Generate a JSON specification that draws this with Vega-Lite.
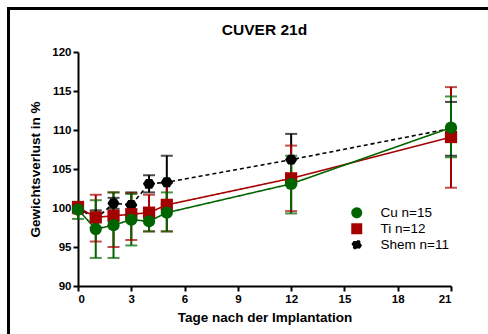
{
  "$schema": "https://vega.github.io/schema/vega-lite/v6.json",
  "width": 373,
  "height": 234,
  "autosize": {"type": "none"},
  "padding": {"left": 78, "top": 52, "right": 37, "bottom": 48},
  "background": "white",
  "title": {"text": "CUVER 21d", "font": "Liberation Sans", "fontSize": 15.5, "fontWeight": "bold", "color": "black", "offset": -31, "anchor": "middle"},
  "config": {
    "view": {"stroke": null},
    "axis": {"domainColor": "black", "domainWidth": 2, "tickColor": "black", "tickWidth": 2, "tickSize": 5, "labelFont": "Liberation Sans", "labelFontWeight": "bold", "labelFontSize": 11.5, "labelColor": "black", "titleFont": "Liberation Sans", "titleFontWeight": "bold", "titleFontSize": 13.5, "titleColor": "black", "grid": false, "labelOverlap": false},
    "axisY": {"values": [90, 95, 100, 105, 110, 115, 120], "title": "Gewichtsverlust in %", "titlePadding": 9},
    "axisX": {"values": [0, 3, 6, 9, 12, 15, 18, 21], "title": "Tage nach der Implantation", "titlePadding": 6},
    "legend": {"labelFont": "Liberation Sans", "labelFontSize": 13.5, "labelColor": "black", "symbolOpacity": 1}
  },
  "data": {"values": [
    {"s": "Shem n=11", "d": 0, "m": 100.0, "lo": 99.5, "hi": 100.5},
    {"s": "Shem n=11", "d": 1, "m": 98.6, "lo": 97.5, "hi": 99.7},
    {"s": "Shem n=11", "d": 2, "m": 100.6, "lo": 99.9, "hi": 101.3},
    {"s": "Shem n=11", "d": 3, "m": 100.4, "lo": 99.0, "hi": 102.0},
    {"s": "Shem n=11", "d": 4, "m": 103.1, "lo": 102.0, "hi": 104.2},
    {"s": "Shem n=11", "d": 5, "m": 103.3, "lo": 100.5, "hi": 106.7},
    {"s": "Shem n=11", "d": 12, "m": 106.2, "lo": 102.9, "hi": 109.5},
    {"s": "Shem n=11", "d": 21, "m": 110.2, "lo": 106.7, "hi": 113.6},
    {"s": "Ti n=12", "d": 0, "m": 100.1, "lo": 99.3, "hi": 100.8},
    {"s": "Ti n=12", "d": 1, "m": 98.8, "lo": 95.7, "hi": 101.7},
    {"s": "Ti n=12", "d": 2, "m": 99.0, "lo": 95.0, "hi": 102.0},
    {"s": "Ti n=12", "d": 3, "m": 99.2, "lo": 95.9, "hi": 101.9},
    {"s": "Ti n=12", "d": 4, "m": 99.4, "lo": 97.0, "hi": 101.7},
    {"s": "Ti n=12", "d": 5, "m": 100.4, "lo": 97.0, "hi": 103.2},
    {"s": "Ti n=12", "d": 12, "m": 103.8, "lo": 99.6, "hi": 108.0},
    {"s": "Ti n=12", "d": 21, "m": 109.1, "lo": 102.6, "hi": 115.5},
    {"s": "Cu n=15", "d": 0, "m": 99.8, "lo": 98.6, "hi": 100.7},
    {"s": "Cu n=15", "d": 1, "m": 97.3, "lo": 93.6, "hi": 101.0},
    {"s": "Cu n=15", "d": 2, "m": 97.8, "lo": 93.6, "hi": 102.0},
    {"s": "Cu n=15", "d": 3, "m": 98.5, "lo": 95.2, "hi": 101.8},
    {"s": "Cu n=15", "d": 4, "m": 98.3, "lo": 97.0, "hi": 99.8},
    {"s": "Cu n=15", "d": 5, "m": 99.4, "lo": 97.0, "hi": 102.0},
    {"s": "Cu n=15", "d": 12, "m": 103.1, "lo": 99.3, "hi": 106.7},
    {"s": "Cu n=15", "d": 21, "m": 110.3, "lo": 106.5, "hi": 114.3}
  ]},
  "layer": [
    {
      "mark": {"type": "rect", "fill": null, "stroke": "black", "strokeWidth": 2, "clip": false},
      "encoding": {
        "x": {"datum": -3.92, "type": "quantitative", "scale": {"domain": [0, 21], "nice": false, "zero": false}, "title": "Tage nach der Implantation", "axis": {"values": [0, 3, 6, 9, 12, 15, 18, 21]}},
        "x2": {"datum": 30},
        "y": {"datum": 125.6, "type": "quantitative", "scale": {"domain": [90, 120], "nice": false, "zero": false}, "title": "Gewichtsverlust in %", "axis": {"values": [90, 95, 100, 105, 110, 115, 120]}},
        "y2": {"datum": 80}
      }
    },
    {
      "mark": {"type": "line", "strokeWidth": 1.6},
      "encoding": {
        "x": {"field": "d", "type": "quantitative", "title": "Tage nach der Implantation", "axis": {"values": [0, 3, 6, 9, 12, 15, 18, 21]}},
        "y": {"field": "m", "type": "quantitative", "title": "Gewichtsverlust in %", "axis": {"values": [90, 95, 100, 105, 110, 115, 120]}},
        "color": {"field": "s", "type": "nominal", "scale": {"domain": ["Cu n=15", "Ti n=12", "Shem n=11"], "range": ["#006400", "#a50000", "#000000"]}, "legend": {"title": null, "orient": "none", "legendX": 272, "legendY": 154, "symbolSize": 90, "rowPadding": 0, "labelOffset": 17}},
        "strokeDash": {"field": "s", "type": "nominal", "scale": {"domain": ["Cu n=15", "Ti n=12", "Shem n=11"], "range": [[1, 0], [1, 0], [4, 3]]}, "legend": null},
        "detail": {"field": "s"}
      }
    },
    {
      "mark": {"type": "rule", "strokeWidth": 2},
      "encoding": {
        "x": {"field": "d", "type": "quantitative", "title": "Tage nach der Implantation", "axis": {"values": [0, 3, 6, 9, 12, 15, 18, 21]}},
        "y": {"field": "lo", "type": "quantitative", "title": "Gewichtsverlust in %", "axis": {"values": [90, 95, 100, 105, 110, 115, 120]}},
        "y2": {"field": "hi"},
        "color": {"field": "s", "type": "nominal"}
      }
    },
    {
      "mark": {"type": "tick", "orient": "horizontal", "thickness": 2, "size": 12},
      "encoding": {
        "x": {"field": "d", "type": "quantitative", "title": "Tage nach der Implantation", "axis": {"values": [0, 3, 6, 9, 12, 15, 18, 21]}},
        "y": {"field": "lo", "type": "quantitative", "title": "Gewichtsverlust in %", "axis": {"values": [90, 95, 100, 105, 110, 115, 120]}},
        "color": {"field": "s", "type": "nominal"}
      }
    },
    {
      "mark": {"type": "tick", "orient": "horizontal", "thickness": 2, "size": 12},
      "encoding": {
        "x": {"field": "d", "type": "quantitative", "title": "Tage nach der Implantation", "axis": {"values": [0, 3, 6, 9, 12, 15, 18, 21]}},
        "y": {"field": "hi", "type": "quantitative", "title": "Gewichtsverlust in %", "axis": {"values": [90, 95, 100, 105, 110, 115, 120]}},
        "color": {"field": "s", "type": "nominal"}
      }
    },
    {
      "mark": {"type": "point", "filled": true, "opacity": 1, "size": 150},
      "encoding": {
        "x": {"field": "d", "type": "quantitative", "title": "Tage nach der Implantation", "axis": {"values": [0, 3, 6, 9, 12, 15, 18, 21]}},
        "y": {"field": "m", "type": "quantitative", "title": "Gewichtsverlust in %", "axis": {"values": [90, 95, 100, 105, 110, 115, 120]}},
        "color": {"field": "s", "type": "nominal"},
        "shape": {"field": "s", "type": "nominal", "scale": {"domain": ["Cu n=15", "Ti n=12", "Shem n=11"], "range": ["circle", "square", "M-1,0L-0.5,-0.8L0.5,-0.8L1,0L0.5,0.8L-0.5,0.8Z"]}, "legend": {"title": null, "orient": "none", "legendX": 272, "legendY": 154, "symbolSize": 90, "rowPadding": 0, "labelOffset": 17}}
      }
    }
  ]
}
